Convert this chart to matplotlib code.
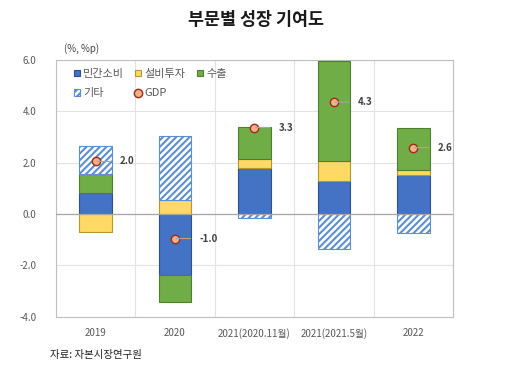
import numpy as np
import matplotlib
matplotlib.use("Agg")
import matplotlib.pyplot as plt

plt.rcParams['font.family'] = ['Noto Sans CJK KR', 'DejaVu Sans']
plt.rcParams['hatch.linewidth'] = 1.5

# 데이터
categories = ["2019", "2020", "2021(2020.11월)", "2021(2021.5월)", "2022"]
series_names = ["민간소비", "설비투자", "수출", "기타"]
consumption = [0.82, -2.37, 1.79, 1.28, 1.52]
investment = [-0.69, 0.56, 0.36, 0.78, 0.19]
exports = [0.74, -1.05, 1.23, 3.89, 1.63]
others = [1.11, 2.48, -0.14, -1.35, -0.74]
gdp = [2.0, -1.0, 3.3, 4.3, 2.6]
gdp_pos = [2.05, -0.95, 3.37, 4.36, 2.59]

colors = ["#4472C4", "#FFD966", "#70AD47", "white"]
edges = ["#2F4F8F", "#B8962E", "#4E7F30", "#5B8FCF"]
hatches = [None, None, None, "/////"]

fig = plt.figure(figsize=(5.12, 3.68), dpi=100)
ax = fig.add_axes([0.109, 0.139, 0.776, 0.698])

x = np.arange(len(categories))
width = 0.41
pos_base = np.zeros(len(x))
neg_base = np.zeros(len(x))
handles = []
for vals, name, c, ec, h in zip([consumption, investment, exports, others],
                                series_names, colors, edges, hatches):
    vals = np.array(vals)
    bottoms = np.where(vals >= 0, pos_base, neg_base)
    b = ax.bar(x, vals, width, bottom=bottoms, color=c, edgecolor=ec,
               linewidth=0.8, hatch=h, label=name, zorder=3)
    handles.append(b)
    pos_base = pos_base + np.where(vals >= 0, vals, 0)
    neg_base = neg_base + np.where(vals < 0, vals, 0)

gl, = ax.plot(x, gdp_pos, linestyle='none', marker='o', markersize=6,
              markerfacecolor="#F4B183", markeredgecolor="#A0281E",
              markeredgewidth=1.0, label="GDP", zorder=5)
handles.append(gl)

for xi, yp, v in zip(x, gdp_pos, gdp):
    ax.annotate(f"{v:.1f}", xy=(xi, yp), xytext=(24, 0),
                textcoords='offset pixels', ha='left', va='center',
                fontsize=7, fontweight='bold', color="#404040",
                arrowprops=dict(arrowstyle='-', color="#A6A6A6", lw=0.8,
                                shrinkA=4, shrinkB=1), zorder=6)

ax.set_xlim(-0.5, len(x) - 0.5)
ax.set_ylim(-4.0, 6.0)
ax.set_yticks(np.arange(-4, 6.1, 2))
ax.set_yticklabels([f"{t:.1f}" for t in np.arange(-4, 6.1, 2)])
ax.set_xticks(x)
ax.set_xticklabels(categories)
ax.tick_params(axis='both', length=0, labelsize=7, colors="#595959", pad=8)
ax.tick_params(axis='y', pad=14)

ax.set_xticks(np.arange(0.5, len(x) - 0.5, 1), minor=True)
ax.grid(axis='y', color="#E3E3E3", linewidth=0.8, zorder=0)
ax.grid(axis='x', which='minor', color="#E3E3E3", linewidth=0.8, zorder=0)
ax.tick_params(axis='x', which='minor', length=0)
ax.axhline(0, color="#A6A6A6", linewidth=0.9, zorder=4)
for s in ax.spines.values():
    s.set_color("#BFBFBF")
    s.set_linewidth(0.8)

# 범례 순서: 행 단위 (민간소비, 설비투자, 수출 / 기타, GDP)
order = [0, 3, 1, 4, 2]
leg = ax.legend(handles=[handles[i] for i in order], ncol=3, loc='upper left',
                frameon=False, fontsize=8, handlelength=0.55, handleheight=0.55,
                handletextpad=0.3, columnspacing=1.0, labelspacing=0.85,
                borderpad=0, borderaxespad=0, bbox_to_anchor=(0.045, 0.965))
for t in leg.get_texts():
    t.set_color("#595959")

fig.text(0.5, 0.945, "부문별 성장 기여도", ha='center', va='center',
         fontsize=12.5, fontweight='bold', color="#1a1a1a")
fig.text(0.125, 0.867, "(%, %p)", ha='left', va='center', fontsize=7,
         color="#404040")
fig.text(0.098, 0.035, "자료: 자본시장연구원", ha='left', va='center',
         fontsize=7.5, color="#222222")

fig.savefig("out.png", dpi=100)
